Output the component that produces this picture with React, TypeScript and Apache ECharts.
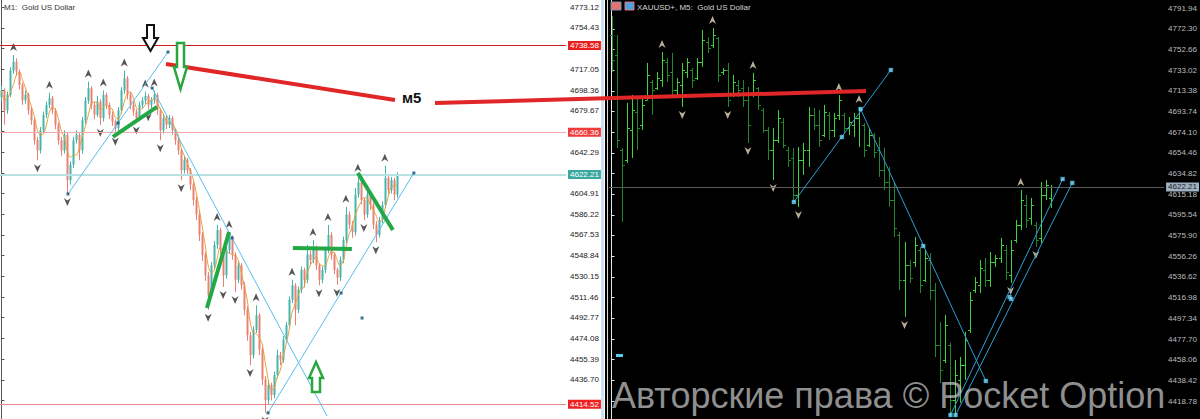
import React, { useEffect, useRef } from 'react';
import * as echarts from 'echarts';

// ---------- M1 panel (left) ----------
const leftFirstOpen = 4692;
const leftClose = [
  4698, 4680, 4694, 4716, 4724, 4715, 4703, 4689, 4694, 4680,
  4671, 4653, 4644, 4662, 4676, 4685, 4691, 4680, 4667, 4653,
  4644, 4658, 4617, 4631, 4653, 4658, 4644, 4671, 4689, 4700,
  4685, 4676, 4688, 4673, 4694, 4685, 4676, 4670, 4664, 4680,
  4698, 4709, 4694, 4685, 4679, 4673, 4685, 4689, 4693, 4685,
  4689, 4694, 4680, 4662, 4673, 4667, 4673, 4662, 4653, 4644,
  4626, 4635, 4626, 4613, 4599, 4586, 4567.5, 4549.5, 4531, 4513,
  4540, 4558.5, 4572, 4554, 4531, 4554, 4565, 4549.5, 4527, 4540,
  4522, 4500, 4477, 4459, 4482, 4495, 4464, 4437, 4418.5, 4432,
  4423, 4441, 4459, 4455, 4473, 4486, 4509, 4522, 4500, 4518,
  4536, 4527, 4550, 4545, 4556, 4540, 4527, 4536, 4554, 4567.5,
  4549.5, 4536, 4529, 4545, 4563, 4586, 4577, 4570, 4604, 4615,
  4599, 4586, 4604, 4594.5, 4577, 4567.5, 4581, 4594.5, 4619, 4608,
  4617, 4604, 4622.2,
];
const leftHigh = [
  4702, 4700, 4697, 4719, 4730, 4727, 4717, 4705, 4698, 4696,
  4683, 4674, 4656, 4665, 4679, 4688, 4696, 4693, 4682, 4669,
  4656, 4662, 4660, 4634, 4656, 4662, 4660, 4674, 4692, 4706,
  4702, 4688, 4693, 4690, 4698, 4696, 4687, 4679, 4672, 4683,
  4701, 4716, 4711, 4697, 4688, 4681, 4688, 4692, 4697, 4695,
  4692, 4698, 4696, 4682, 4677, 4675, 4676, 4675, 4664, 4656,
  4646, 4639, 4637, 4628, 4615, 4602, 4589, 4570, 4552, 4534,
  4543, 4562, 4576.5, 4574, 4556, 4557, 4570, 4567, 4552, 4543,
  4542, 4525, 4503, 4480, 4485, 4504, 4497, 4466, 4440, 4436,
  4434, 4444, 4464, 4462, 4476, 4489, 4512, 4527, 4524, 4521,
  4539, 4538, 4558.5, 4553, 4563, 4558, 4542, 4539, 4557, 4576.5,
  4570, 4552, 4538, 4548, 4566, 4593, 4589, 4580, 4610, 4621,
  4617, 4601, 4612.5, 4607, 4597, 4580, 4584, 4598, 4630, 4621,
  4620, 4619, 4624,
];
const leftLow = [
  4688, 4667, 4677, 4692, 4713, 4711, 4699, 4685, 4686, 4676,
  4667, 4649, 4635, 4641, 4659, 4673, 4682, 4677, 4663, 4649,
  4639, 4641, 4604.5, 4613, 4628, 4650, 4635, 4641, 4668, 4686,
  4681, 4672, 4674, 4667, 4670, 4681, 4672, 4666, 4659, 4661,
  4677, 4695, 4690, 4681, 4675, 4669, 4671, 4682, 4686, 4681,
  4682, 4686, 4676, 4653, 4659, 4663, 4664, 4658, 4649, 4640,
  4617, 4623, 4621, 4608, 4594, 4581, 4562, 4544, 4526, 4500,
  4510, 4537, 4555, 4550, 4520.5, 4528, 4551, 4545, 4516, 4524,
  4518, 4495, 4472, 4450, 4456, 4479, 4459, 4432, 4407, 4415,
  4418, 4420, 4438, 4450, 4452, 4470, 4483, 4506, 4486, 4497,
  4515, 4520, 4524, 4541, 4542, 4536, 4522, 4524, 4533, 4551,
  4545, 4532, 4522.5, 4526, 4542, 4560, 4573, 4565, 4567, 4601,
  4595, 4581, 4583, 4590, 4573, 4561, 4565, 4578, 4592, 4604,
  4605, 4599, 4601,
];
// every grid step carries a tick; the ones under the level boxes carry no label
const leftTicks = [
  4773.12, 4754.43, 4735.74, 4717.05, 4698.36, 4679.67, 4660.98, 4642.29, 4623.6, 4604.91,
  4586.22, 4567.53, 4548.84, 4530.15, 4511.46, 4492.77, 4474.08, 4455.39, 4436.7, 4418.01,
];
const leftTickLabels = [
  4773.12, 4754.43, 4717.05, 4698.36, 4679.67, 4642.29, 4604.91,
  4586.22, 4567.53, 4548.84, 4530.15, 4511.46, 4492.77, 4474.08, 4455.39, 4436.7,
];
const leftLevels = [4738.58, 4660.36, 4622.21, 4414.52];
const leftTrendLines = [
  [[22.2, 4604.5], [55.6, 4732.7]],
  [[50.3, 4700.2], [108.7, 4404]],
  [[89.0, 4406.8], [137.7, 4623.5]],
];
const leftAnchors = [
  [22.2, 4604.5], [38.9, 4668.6], [55.6, 4732.7], [50.3, 4700.2], [77.0, 4564.8],
  [89.0, 4406.8], [113.4, 4515.1], [137.7, 4623.5], [120.4, 4492.5],
];
const leftGreenLines = [
  [[37.2, 4656.0], [51.9, 4683.1]],
  [[68.6, 4501.6], [76.0, 4570.2]],
  [[97.3, 4555.8], [117.0, 4554.9]],
  [[119.0, 4623.5], [130.7, 4572.0]],
];

// ---------- M5 panel (right) ----------
const rightOpen = [
  4766.5, 4747.5, 4657.3, 4647.8, 4676.3, 4693.4, 4681.1, 4704.8, 4721.9, 4716.2,
  4723.8, 4740.9, 4731.4, 4714.3, 4719.0, 4731.4, 4733.3, 4725.7, 4740.9, 4759.9,
  4757.1, 4763.7, 4731.4, 4733.3, 4709.5, 4719.0, 4716.2, 4704.8, 4709.5, 4716.2,
  4695.3, 4676.3, 4657.3, 4666.8, 4683.9, 4657.3, 4649.7, 4614.6, 4647.8, 4657.3,
  4690.6, 4681.1, 4671.5, 4690.6, 4676.3, 4690.6, 4690.6, 4678.2, 4681.1, 4687.7,
  4681.1, 4662.0, 4671.5, 4657.3, 4638.3, 4626.9, 4609.8, 4576.5, 4533.8, 4548.0,
  4550.9, 4562.3, 4533.8, 4552.8, 4524.3, 4472.0, 4457.8, 4472.0, 4419.8, 4438.8,
  4453.0, 4486.3, 4524.3, 4529.1, 4543.3, 4533.8, 4550.9, 4554.7, 4562.3, 4538.5,
  4571.8, 4586.1, 4605.0, 4592.7, 4586.1, 4573.7, 4614.6, 4612.0,
];
const rightClose = [
  4742.8, 4666.8, 4643.1, 4678.2, 4695.3, 4678.2, 4700.1, 4728.6, 4714.3, 4725.7,
  4742.8, 4728.6, 4714.3, 4721.9, 4733.3, 4740.9, 4723.8, 4740.9, 4761.8, 4754.2,
  4766.5, 4728.6, 4733.3, 4704.8, 4721.9, 4714.3, 4704.8, 4681.1, 4723.8, 4700.1,
  4676.3, 4657.3, 4666.8, 4687.7, 4662.0, 4647.8, 4614.6, 4647.8, 4657.3, 4690.6,
  4681.1, 4666.8, 4693.4, 4676.3, 4687.7, 4704.8, 4678.2, 4683.9, 4687.7, 4695.3,
  4657.3, 4671.5, 4655.4, 4638.3, 4626.9, 4609.8, 4583.2, 4533.8, 4548.0, 4535.7,
  4567.0, 4529.1, 4554.7, 4524.3, 4472.0, 4448.3, 4491.0, 4419.8, 4443.5, 4453.0,
  4476.8, 4514.8, 4531.9, 4545.2, 4533.8, 4550.9, 4554.7, 4567.0, 4541.4, 4562.3,
  4586.1, 4609.8, 4590.8, 4605.0, 4571.8, 4614.6, 4624.0, 4622.2,
];
const rightHigh = [
  4784.6, 4766.5, 4659.2, 4702.0, 4709.6, 4706.7, 4706.7, 4740.0, 4723.8, 4731.4,
  4750.4, 4744.7, 4749.5, 4725.7, 4740.0, 4744.7, 4735.2, 4744.7, 4771.3, 4764.6,
  4773.2, 4764.6, 4735.2, 4740.0, 4728.6, 4723.8, 4723.8, 4717.2, 4730.5, 4717.2,
  4697.2, 4679.1, 4678.2, 4695.3, 4687.7, 4660.1, 4659.2, 4660.1, 4664.0, 4698.2,
  4697.2, 4695.3, 4700.1, 4693.4, 4692.5, 4709.5, 4692.5, 4688.7, 4692.5, 4698.2,
  4682.9, 4678.2, 4673.4, 4669.7, 4659.2, 4641.2, 4625.9, 4579.4, 4569.9, 4552.8,
  4574.6, 4565.2, 4562.3, 4559.4, 4530.9, 4493.9, 4500.6, 4474.0, 4457.8, 4460.6,
  4484.4, 4522.4, 4536.6, 4552.8, 4554.7, 4560.4, 4557.5, 4573.7, 4567.0, 4571.8,
  4590.8, 4619.3, 4614.6, 4611.7, 4588.9, 4626.9, 4628.8, 4624.0,
];
const rightLow = [
  4731.4, 4659.2, 4588.9, 4645.0, 4649.7, 4657.3, 4676.3, 4704.8, 4690.6, 4714.3,
  4717.2, 4721.9, 4707.6, 4709.5, 4698.2, 4725.7, 4716.2, 4723.8, 4736.2, 4749.5,
  4754.2, 4721.9, 4728.6, 4698.2, 4707.6, 4707.6, 4698.2, 4663.9, 4707.6, 4695.3,
  4673.5, 4647.8, 4628.8, 4663.9, 4659.2, 4641.2, 4607.9, 4603.1, 4633.6, 4641.2,
  4676.3, 4660.1, 4669.6, 4666.8, 4669.6, 4685.8, 4673.5, 4671.5, 4669.6, 4660.1,
  4650.6, 4660.1, 4649.7, 4631.7, 4619.3, 4603.1, 4574.6, 4524.3, 4498.6, 4531.0,
  4546.1, 4521.4, 4531.9, 4514.8, 4460.6, 4435.9, 4454.9, 4403.6, 4403.6, 4417.0,
  4438.8, 4483.4, 4521.4, 4521.4, 4527.2, 4527.2, 4546.1, 4549.9, 4533.8, 4531.0,
  4569.0, 4581.3, 4583.2, 4586.1, 4565.2, 4569.0, 4609.8, 4602.2,
];
const rightTicks = [
  4791.94, 4772.3, 4752.66, 4733.02, 4713.38, 4693.74, 4674.1, 4654.46, 4634.82, 4615.18,
  4595.54, 4575.9, 4556.26, 4536.62, 4516.98, 4497.34, 4477.7, 4458.06, 4438.42, 4418.78,
];
const rightBid = 4622.21;
const rightTrendLines = [
  [[36.1, 4607.9], [55.3, 4733.3]],
  [[49.3, 4696.2], [74.1, 4437.8]],
  [[67.1, 4405.5], [89.3, 4629.7]],
  [[68.1, 4405.5], [91.2, 4626.0]],
];
const rightAnchors = [
  [36.1, 4607.9], [45.6, 4669.6], [55.3, 4733.3], [49.3, 4696.2], [61.7, 4566.1], [74.1, 4437.8],
  [67.1, 4405.5], [68.1, 4405.5], [78.8, 4517.6], [79.1, 4515.7], [89.3, 4629.7], [91.2, 4626.0],
];

const leftTitle = 'M1:  Gold US Dollar';
const rightTitle = 'XAUUSD+, M5:  Gold US Dollar';
const noteText = 'м5';
const watermark = 'Авторские права © Pocket Option';

// ---------- helpers ----------
const FONT = 'Liberation Sans, Arial, sans-serif';
const ARROW_UP = 'path://M5,0L10,10L5,7L0,10Z';
const ARROW_DOWN = 'path://M0,0L5,3L10,0L5,10Z';

// Bill Williams style fractals: an extreme that beats `span` bars on each side
function fractalsUp(high: number[], span: number) {
  const out: number[][] = [];
  for (let i = span; i < high.length - span; i++) {
    let ok = true;
    for (let k = 1; k <= span; k++) {
      if (!(high[i] > high[i - k] && high[i] >= high[i + k])) ok = false;
    }
    if (ok) out.push([i, high[i]]);
  }
  return out;
}
function fractalsDown(low: number[], span: number) {
  const out: number[][] = [];
  for (let i = span; i < low.length - span; i++) {
    let ok = true;
    for (let k = 1; k <= span; k++) {
      if (!(low[i] < low[i - k] && low[i] <= low[i + k])) ok = false;
    }
    if (ok) out.push([i, low[i]]);
  }
  return out;
}
function movingAverage(values: number[], period: number) {
  return values.map((_, i) => {
    const from = Math.max(0, i - period + 1);
    const slice = values.slice(from, i + 1);
    return [i, slice.reduce((a, b) => a + b, 0) / slice.length];
  });
}

const leftCandles = leftClose.map((c, i) => [i, i === 0 ? leftFirstOpen : leftClose[i - 1], c, leftLow[i], leftHigh[i]]);
const rightBars = rightClose.map((c, i) => [i, rightOpen[i], c, rightLow[i], rightHigh[i]]);

function renderCandle(params: any, api: any) {
  const i = api.value(0);
  const o = api.value(1);
  const c = api.value(2);
  const top = api.coord([i, api.value(4)]);
  const bot = api.coord([i, api.value(3)]);
  const po = api.coord([i, o]);
  const pc = api.coord([i, c]);
  const x = Math.round(top[0]) + 0.5;
  const col = c >= o ? '#45b5ab' : '#ea7f74';
  return {
    type: 'group',
    children: [
      { type: 'line', shape: { x1: x, y1: top[1], x2: x, y2: bot[1] }, style: { stroke: col, lineWidth: 1 } },
      {
        type: 'rect',
        shape: { x: x - 1, y: Math.min(po[1], pc[1]), width: 2, height: Math.max(1, Math.abs(po[1] - pc[1])) },
        style: { fill: col },
      },
    ],
  };
}

function renderBar(params: any, api: any) {
  const i = api.value(0);
  const o = api.value(1);
  const c = api.value(2);
  const top = api.coord([i, api.value(4)]);
  const bot = api.coord([i, api.value(3)]);
  const po = api.coord([i, o]);
  const pc = api.coord([i, c]);
  const x = Math.round(top[0]) + 0.5;
  const col = c >= o ? '#3fd13f' : '#22862a';
  const yo = Math.round(po[1]) + 0.5;
  const yc = Math.round(pc[1]) + 0.5;
  return {
    type: 'group',
    children: [
      { type: 'line', shape: { x1: x, y1: top[1], x2: x, y2: bot[1] }, style: { stroke: col, lineWidth: 1 } },
      { type: 'line', shape: { x1: x - 2.5, y1: yo, x2: x, y2: yo }, style: { stroke: col, lineWidth: 1 } },
      { type: 'line', shape: { x1: x, y1: yc, x2: x + 2.5, y2: yc }, style: { stroke: col, lineWidth: 1 } },
    ],
  };
}

const leftLevelLine = ['#c81e1e', '#f2a9a9', '#b9e1e1', '#e88a8a'];
const leftLevelWidth = [1, 1, 2, 1];
const leftLevelBox = ['#e8201e', '#f03a3a', '#3aa89f', '#ee2020'];

function lineSeries(seg: number[][], xIdx: number, color: string, width: number) {
  return {
    type: 'line',
    xAxisIndex: xIdx,
    yAxisIndex: xIdx,
    data: seg,
    symbol: 'none',
    silent: true,
    z: 5,
    lineStyle: { color, width },
  };
}

function arrowPolygon(points: number[][], stroke: string, width: number) {
  return {
    type: 'polygon',
    z: 100,
    shape: { points },
    style: { fill: '#ffffff', stroke, lineWidth: width, lineJoin: 'miter' },
  };
}

export default function App() {
  const ref = useRef<HTMLDivElement>(null);

  useEffect(() => {
    if (!ref.current) return;
    const chart = echarts.init(ref.current, undefined, { renderer: 'svg' });

    const option: any = {
      animation: false,
      backgroundColor: '#ffffff',
      grid: [
        { left: 0, top: 0, width: 566, height: 419 },
        { left: 609, top: 0, width: 567, height: 419 },
      ],
      xAxis: [
        { gridIndex: 0, type: 'value', min: -0.5, max: 188.5, show: false },
        { gridIndex: 1, type: 'value', min: -0.5, max: 109.38, show: false },
      ],
      yAxis: [
        {
          gridIndex: 0,
          type: 'value',
          position: 'right',
          min: 4401.3,
          max: 4779.7,
          splitLine: { show: false },
          axisLine: { show: true, lineStyle: { color: '#555', width: 1 } },
          axisTick: { show: true, length: 3, customValues: leftTicks, lineStyle: { color: '#555' } },
          axisLabel: {
            customValues: leftTickLabels,
            formatter: (v: number) => v.toFixed(2),
            fontSize: 8,
            color: '#222',
            margin: 4,
            fontFamily: FONT,
          },
        },
        {
          gridIndex: 1,
          type: 'value',
          position: 'right',
          min: 4401.7,
          max: 4799.8,
          splitLine: { show: false },
          axisLine: { show: true, lineStyle: { color: '#e8e8e8', width: 1 } },
          axisTick: { show: true, length: 3, customValues: rightTicks, lineStyle: { color: '#e8e8e8' } },
          axisLabel: {
            customValues: rightTicks,
            formatter: (v: number) => v.toFixed(2),
            fontSize: 8,
            color: '#bdbdbd',
            margin: 4,
            fontFamily: FONT,
          },
        },
      ],
      series: [
        // price levels of the M1 chart
        {
          type: 'line',
          xAxisIndex: 0,
          yAxisIndex: 0,
          data: [],
          z: 1,
          markLine: {
            silent: true,
            symbol: ['none', 'none'],
            animation: false,
            data: leftLevels.map((v, k) => ({
              yAxis: v,
              lineStyle: { color: leftLevelLine[k], width: leftLevelWidth[k], type: 'solid' },
              label: {
                show: true,
                position: 'end',
                distance: 2,
                formatter: v.toFixed(2),
                color: '#ffffff',
                backgroundColor: leftLevelBox[k],
                fontSize: 8,
                fontFamily: FONT,
                padding: [1, 2, 0, 2],
              },
            })),
          },
        },
        {
          type: 'custom',
          xAxisIndex: 0,
          yAxisIndex: 0,
          data: leftCandles,
          encode: { x: 0, y: [1, 2, 3, 4] },
          renderItem: renderCandle,
          silent: true,
          z: 2,
        },
        {
          type: 'line',
          xAxisIndex: 0,
          yAxisIndex: 0,
          data: movingAverage(leftClose, 4),
          symbol: 'none',
          smooth: 0.3,
          silent: true,
          z: 3,
          lineStyle: { color: '#e6a23c', width: 1 },
        },
        {
          type: 'scatter',
          xAxisIndex: 0,
          yAxisIndex: 0,
          data: fractalsUp(leftHigh, 2),
          symbol: ARROW_UP,
          symbolSize: [7, 8],
          symbolOffset: [0, -8],
          silent: true,
          z: 4,
          itemStyle: { color: '#2b2b2b' },
        },
        {
          type: 'scatter',
          xAxisIndex: 0,
          yAxisIndex: 0,
          data: fractalsDown(leftLow, 2),
          symbol: ARROW_DOWN,
          symbolSize: [7, 8],
          symbolOffset: [0, 8],
          silent: true,
          z: 4,
          itemStyle: { color: '#2b2b2b' },
        },
        ...leftTrendLines.map((seg) => lineSeries(seg, 0, '#56bfea', 1)),
        ...leftGreenLines.map((seg) => lineSeries(seg, 0, '#24a846', 4)),
        {
          type: 'scatter',
          xAxisIndex: 0,
          yAxisIndex: 0,
          data: leftAnchors,
          symbol: 'rect',
          symbolSize: 3,
          silent: true,
          z: 6,
          itemStyle: { color: '#0c4f73' },
        },

        // M5 chart
        {
          type: 'custom',
          xAxisIndex: 1,
          yAxisIndex: 1,
          data: rightBars,
          encode: { x: 0, y: [1, 2, 3, 4] },
          renderItem: renderBar,
          silent: true,
          z: 2,
          markLine: {
            silent: true,
            symbol: ['none', 'none'],
            animation: false,
            data: [
              {
                yAxis: rightBid,
                lineStyle: { color: '#5c5c5c', width: 1, type: 'solid' },
                label: {
                  show: true,
                  position: 'end',
                  distance: 2,
                  formatter: rightBid.toFixed(2),
                  color: '#1c1c1c',
                  backgroundColor: '#9fb2c4',
                  fontSize: 8,
                  fontFamily: FONT,
                  padding: [1, 2, 0, 2],
                },
              },
            ],
          },
        },
        {
          type: 'scatter',
          xAxisIndex: 1,
          yAxisIndex: 1,
          data: fractalsUp(rightHigh, 3),
          symbol: ARROW_UP,
          symbolSize: [7, 8],
          symbolOffset: [0, -8],
          silent: true,
          z: 4,
          itemStyle: { color: '#e6d8bb' },
        },
        {
          type: 'scatter',
          xAxisIndex: 1,
          yAxisIndex: 1,
          data: fractalsDown(rightLow, 3),
          symbol: ARROW_DOWN,
          symbolSize: [7, 8],
          symbolOffset: [0, 8],
          silent: true,
          z: 4,
          itemStyle: { color: '#e6d8bb' },
        },
        ...rightTrendLines.map((seg) => lineSeries(seg, 1, '#2d9fd3', 1)),
        {
          type: 'scatter',
          xAxisIndex: 1,
          yAxisIndex: 1,
          data: rightAnchors,
          symbol: 'rect',
          symbolSize: 4,
          silent: true,
          z: 6,
          itemStyle: { color: '#7fe0ff', borderColor: '#2a8fc0', borderWidth: 0.5 },
        },
      ],
      graphic: [
        // panel backgrounds and frame
        { type: 'rect', z: -1, silent: true, shape: { x: 605, y: 0, width: 595, height: 419 }, style: { fill: '#000000' } },
        { type: 'rect', z: -1, silent: true, shape: { x: 601, y: 0, width: 3, height: 419 }, style: { fill: '#cfdff0' } },
        { type: 'line', z: -1, silent: true, shape: { x1: 607.5, y1: 0, x2: 607.5, y2: 419 }, style: { stroke: '#d8d8d8', lineWidth: 1 } },
        // titles
        {
          type: 'text',
          z: 50,
          silent: true,
          style: { x: 4, y: 3, text: leftTitle, fill: '#333333', font: `8px ${FONT}`, verticalAlign: 'top' },
        },
        { type: 'rect', z: 50, silent: true, shape: { x: 611, y: 2, width: 10, height: 8 }, style: { fill: '#e57373', stroke: '#7a8fb0', lineWidth: 1 } },
        { type: 'rect', z: 50, silent: true, shape: { x: 625, y: 2, width: 9, height: 8 }, style: { fill: '#4aa3df', stroke: '#e57373', lineWidth: 1 } },
        {
          type: 'text',
          z: 50,
          silent: true,
          style: { x: 637, y: 3, text: rightTitle, fill: '#d6d6d6', font: `8px ${FONT}`, verticalAlign: 'top' },
        },
        { type: 'rect', z: 50, silent: true, shape: { x: 616, y: 354, width: 7, height: 3 }, style: { fill: '#55d0f2' } },
        // hand-drawn notes
        { type: 'line', z: 90, silent: true, shape: { x1: 166, y1: 64, x2: 395, y2: 100 }, style: { stroke: '#e02626', lineWidth: 4 } },
        { type: 'line', z: 90, silent: true, shape: { x1: 435, y1: 103, x2: 866, y2: 91 }, style: { stroke: '#e02626', lineWidth: 4 } },
        {
          type: 'text',
          z: 90,
          silent: true,
          style: { x: 402, y: 97, text: noteText, fill: '#111111', font: `bold 15px ${FONT}`, verticalAlign: 'middle' },
        },
        arrowPolygon([[147, 25], [154, 25], [154, 38], [158, 38], [150.5, 51], [143, 38], [147, 38]], '#111111', 2),
        arrowPolygon([[177, 43], [184, 43], [184, 67], [187, 67], [180.5, 89], [174, 67], [177, 67]], '#2aa63f', 2.5),
        arrowPolygon([[316, 362], [323, 378], [320, 378], [320, 392], [312, 392], [312, 378], [309, 378]], '#2aa63f', 2.5),
        // watermark
        {
          type: 'text',
          z: 120,
          silent: true,
          style: {
            x: 612,
            y: 413,
            text: watermark,
            fill: 'rgba(200,200,200,0.72)',
            font: `36px ${FONT}`,
            verticalAlign: 'bottom',
          },
        },
      ],
    };

    chart.setOption(option);
    return () => chart.dispose();
  }, []);

  return (
    <div
      ref={ref}
      style={{ position: 'fixed', left: 0, top: 0, width: 1200, height: 419 }}
    />
  );
}
